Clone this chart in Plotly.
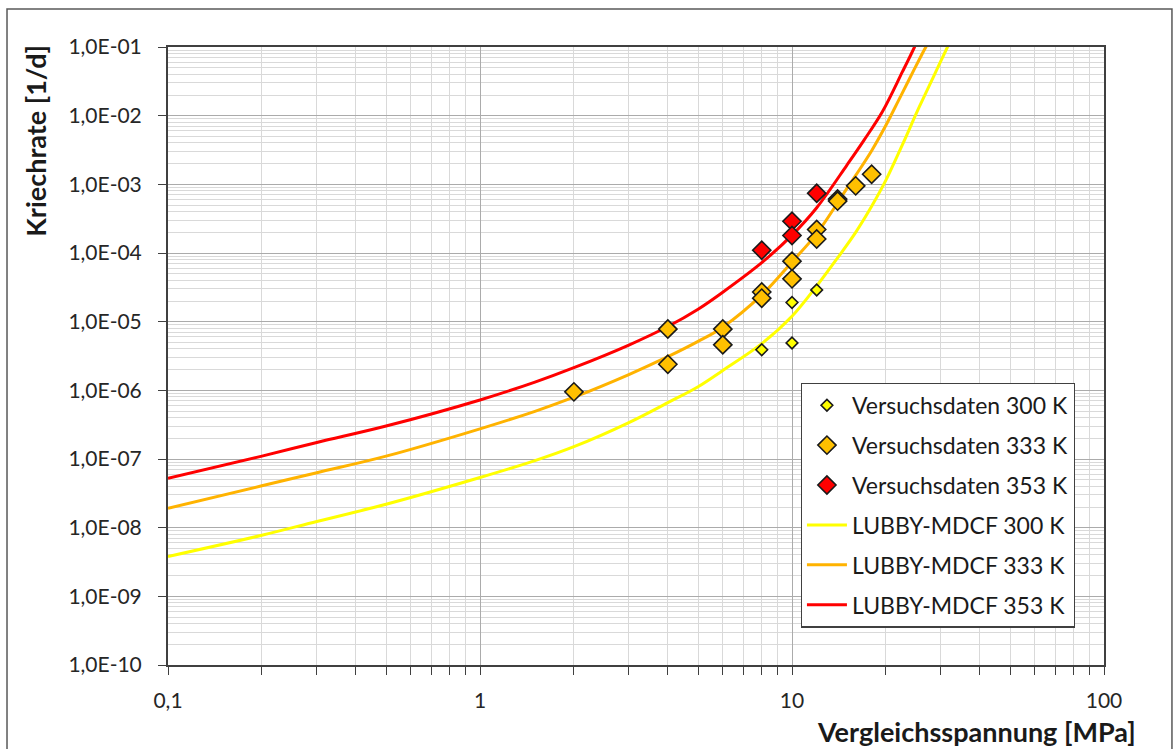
import plotly.graph_objects as go

# Measured creep rates (stress in MPa, rate in 1/d)
stress_300 = [8, 10, 10, 12]
rate_300 = [3.9e-6, 1.9e-5, 4.9e-6, 2.9e-5]

stress_333 = [2, 4, 4, 6, 6, 8, 8, 10, 10, 12, 12, 14, 14, 16, 18]
rate_333 = [9.5e-7, 7.8e-6, 2.4e-6, 7.8e-6, 4.6e-6, 2.7e-5, 2.2e-5, 7.6e-5,
            4.2e-5, 2.2e-4, 1.6e-4, 6.1e-4, 5.7e-4, 9.5e-4, 1.4e-3]

stress_353 = [8, 10, 10, 12]
rate_353 = [1.1e-4, 2.9e-4, 1.8e-4, 7.4e-4]

# LUBBY-MDCF model curves
model_x_300 = [0.1, 0.2, 0.3, 0.5, 1, 1.5, 2, 3, 4, 5, 6, 8, 10, 12, 14, 16, 18, 20, 22.5,
               25.6, 28.5, 31.5, 32.5]
model_y_300 = [3.80e-9, 7.76e-9, 1.23e-8, 2.19e-8, 5.37e-8, 9.46e-8, 1.51e-7, 3.39e-7, 6.61e-7,
               1.13e-6, 1.95e-6, 4.79e-6, 1.20e-5, 3.31e-5, 8.51e-5, 2.0e-4, 4.79e-4, 1.15e-3,
               3.63e-3, 1.35e-2, 3.80e-2, 1.0e-1, 1.35e-1]

model_x_333 = [0.1, 0.2, 0.3, 0.5, 1, 1.5, 2, 3, 4, 5, 6, 8, 10, 12, 15, 16, 18, 20, 22, 24,
               26, 27.2, 28.2]
model_y_333 = [1.91e-8, 4.07e-8, 6.31e-8, 1.10e-7, 2.75e-7, 4.95e-7, 7.94e-7, 1.70e-6, 3.09e-6,
               5.16e-6, 8.32e-6, 2.45e-5, 7.41e-5, 1.91e-4, 8.71e-4, 1.35e-3, 3.09e-3, 7.24e-3,
               1.70e-2, 3.72e-2, 7.59e-2, 1.12e-1, 1.58e-1]

model_x_353 = [0.1, 0.2, 0.3, 0.5, 1, 1.5, 2, 3, 4, 5, 6, 8, 10, 12, 15, 17, 19.5, 22.6,
               24.7, 25.6]
model_y_353 = [5.25e-8, 1.10e-7, 1.74e-7, 3.02e-7, 7.24e-7, 1.32e-6, 2.14e-6, 4.57e-6, 8.51e-6,
               1.52e-5, 2.69e-5, 7.24e-5, 1.82e-4, 4.57e-4, 1.91e-3, 4.37e-3, 1.15e-2, 4.37e-2,
               1.0e-1, 1.45e-1]

x_tickvals = [0.1, 1, 10, 100]
x_ticktext = ["0,1", "1", "10", "100"]
y_tickvals = [1e-10, 1e-9, 1e-8, 1e-7, 1e-6, 1e-5, 1e-4, 1e-3, 1e-2, 1e-1]
y_ticktext = ["1,0E-10", "1,0E-09", "1,0E-08", "1,0E-07", "1,0E-06",
              "1,0E-05", "1,0E-04", "1,0E-03", "1,0E-02", "1,0E-01"]

YELLOW = "#FFFF00"
ORANGE = "#FFB300"
GOLD = "#FFC000"
RED = "#FF0000"
FONT = "Lato"

fig = go.Figure()

for xs, ys, col, name, rank in [
    (model_x_300, model_y_300, YELLOW, "LUBBY-MDCF 300 K", 4),
    (model_x_333, model_y_333, ORANGE, "LUBBY-MDCF 333 K", 5),
    (model_x_353, model_y_353, RED, "LUBBY-MDCF 353 K", 6),
]:
    fig.add_trace(go.Scatter(
        x=xs, y=ys, mode="lines", name=name, legendrank=rank, legendgroup=name,
        line=dict(color=col, width=3, shape="spline", smoothing=1.0),
    ))

for xs, ys, col, size, name, rank in [
    (stress_300, rate_300, YELLOW, 9, "Versuchsdaten 300 K", 1),
    (stress_333, rate_333, GOLD, 14, "Versuchsdaten 333 K", 2),
    (stress_353, rate_353, RED, 14, "Versuchsdaten 353 K", 3),
]:
    fig.add_trace(go.Scatter(
        x=xs, y=ys, mode="markers", name=name, legendrank=rank, legendgroup=name,
        marker=dict(symbol="diamond", size=size, color=col,
                    line=dict(color="#1a1a1a", width=1.6)),
    ))

# minor grid positions at 2..9 within each decade
minor_x = [m * 10.0 ** e for e in range(-1, 2) for m in range(2, 10)]
minor_y = [m * 10.0 ** e for e in range(-10, -1) for m in range(2, 10)]

fig.update_xaxes(
    type="log", range=[-1, 2],
    tickmode="array", tickvals=x_tickvals, ticktext=x_ticktext,
    ticks="outside", ticklen=8, tickwidth=1.2, tickcolor="#404040",
    ticklabelstandoff=8,
    showline=True, linecolor="#404040", linewidth=2, mirror=True,
    showgrid=True, gridcolor="#ABABAB", gridwidth=1,
    minor=dict(tickmode="array", tickvals=minor_x, ticks="outside", ticklen=8,
               tickwidth=1.2, tickcolor="#404040",
               showgrid=True, gridcolor="#D9D9D9", gridwidth=1),
    tickfont=dict(family=FONT, size=21, color="#262626"),
    zeroline=False,
)
fig.update_yaxes(
    type="log", range=[-10, -1],
    tickmode="array", tickvals=y_tickvals, ticktext=y_ticktext,
    ticks="outside", ticklen=8, tickwidth=1.2, tickcolor="#404040",
    ticklabelstandoff=12,
    showline=True, linecolor="#404040", linewidth=2, mirror=True,
    showgrid=True, gridcolor="#ABABAB", gridwidth=1,
    minor=dict(tickmode="array", tickvals=minor_y, ticks="",
               showgrid=True, gridcolor="#D9D9D9", gridwidth=1),
    tickfont=dict(family=FONT, size=21, color="#262626"),
    zeroline=False,
)

fig.update_layout(
    width=1173, height=749,
    margin=dict(l=168, r=69, t=47, b=84),
    paper_bgcolor="white", plot_bgcolor="white",
    font=dict(family=FONT, size=21, color="#1a1a1a"),
    showlegend=True,
    legend=dict(
        x=0.676, y=0.457, xanchor="left", yanchor="top",
        bgcolor="white", bordercolor="#404040", borderwidth=1.2,
        font=dict(family=FONT, size=23, color="#1a1a1a"),
        itemwidth=40, tracegroupgap=7,
    ),
    annotations=[
        dict(text="<b>Kriechrate [1/d]</b>", textangle=-90,
             xref="paper", yref="paper", x=-0.141, y=1.007,
             xanchor="center", yanchor="top", showarrow=False,
             font=dict(family=FONT, size=27, color="#1a1a1a")),
        dict(text="<b>Vergleichsspannung [MPa]</b>",
             xref="paper", yref="paper", x=1.036, y=-0.107,
             xanchor="right", yanchor="middle", showarrow=False,
             font=dict(family=FONT, size=27, color="#1a1a1a")),
    ],
    shapes=[
        dict(type="rect", xref="paper", yref="paper",
             x0=-0.172, x1=1.0726, y0=-0.2, y1=1.0615,
             line=dict(color="#595959", width=1.5), layer="below"),
    ],
)

fig.write_html("out.html")
